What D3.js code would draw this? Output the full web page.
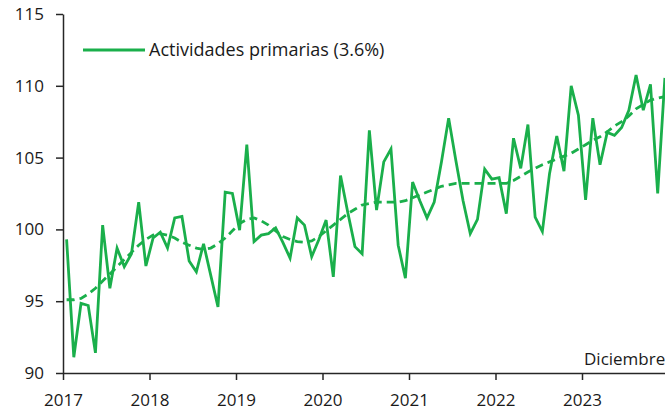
<!DOCTYPE html>
<html>
<head>
<meta charset="utf-8">
<script src="https://cdn.jsdelivr.net/npm/d3@7"></script>
<style>
  html, body { margin: 0; padding: 0; background: #fff; overflow: hidden; }
  svg { display: block; }
  .axis text { font-family: 'Open Sans', sans-serif; font-size: 17px; fill: #1a1a1a; }
  .axis path, .axis line { stroke: #262626; stroke-width: 1.5px; }
</style>
</head>
<body>
<div id="chart"></div>
<script>
// Años del eje (marca en enero de cada año)
const years = ['2017', '2018', '2019', '2020', '2021', '2022', '2023']

// Índice mensual, enero 2017 - diciembre 2023
const primarias = [
  99.3, 91.1, 94.85, 94.7, 91.4, 100.3, 95.9, 98.7, 97.4, 98.3, 101.9, 97.45,
  99.4, 99.8, 98.7, 100.8, 100.9, 97.8, 97.05, 99.0, 96.8, 94.6, 102.6, 102.5,
  99.95, 105.9, 99.15, 99.6, 99.7, 100.1, 99.1, 98.0, 100.8, 100.3, 98.1, 99.3,
  100.65, 96.7, 103.75, 101.2, 98.8, 98.3, 106.9, 101.35, 104.7, 105.6, 98.9, 96.6,
  103.3, 102.0, 100.8, 101.9, 104.7, 107.75, 104.8, 102.0, 99.7, 100.7, 104.2, 103.5,
  103.6, 101.1, 106.35, 104.25, 107.3, 100.85, 99.85, 103.9, 106.5, 104.05, 110.0, 107.95,
  102.05, 107.75, 104.5, 106.75, 106.55, 107.1, 108.3, 110.75, 108.3, 110.1, 102.5, 110.55
]

// Tendencia (línea discontinua)
const tendencia = [
  95.1, 95.1, 95.2, 95.5, 95.9, 96.4, 96.9, 97.4, 97.9, 98.4, 98.9, 99.3,
  99.6, 99.7, 99.6, 99.4, 99.1, 98.9, 98.7, 98.6, 98.7, 99.0, 99.4, 99.9,
  100.4, 100.7, 100.8, 100.6, 100.3, 99.9, 99.5, 99.3, 99.15, 99.1, 99.2, 99.5,
  99.9, 100.3, 100.7, 101.1, 101.4, 101.7, 101.8, 101.9, 101.9, 101.9, 101.9, 102.0,
  102.2, 102.4, 102.6, 102.8, 103.0, 103.1, 103.2, 103.2, 103.2, 103.2, 103.2, 103.2,
  103.2, 103.2, 103.4, 103.7, 104.0, 104.25, 104.5, 104.7, 104.9, 105.1, 105.3, 105.6,
  105.9, 106.2, 106.45, 106.8, 107.2, 107.5, 107.9, 108.4, 108.7, 109.0, 109.15, 109.25
]

const yTicks = [90, 95, 100, 105, 110, 115]
const legendLabel = 'Actividades primarias (3.6%)'
const noteLabel = 'Diciembre'

const width = 665
const height = 414
const green = '#1aaf4b'

const svg = d3.select('#chart').append('svg')
  .attr('width', width)
  .attr('height', height)

const x = d3.scaleLinear()
  .domain([0, primarias.length])
  .range([63, 668.5])

const y = d3.scaleLinear()
  .domain([90, 115])
  .range([373, 14])

svg.append('g')
  .attr('class', 'axis')
  .attr('transform', `translate(0,${y(90)})`)
  .call(d3.axisBottom(x)
    .tickValues(years.map((_, i) => i * 12))
    .tickFormat(d => years[d / 12])
    .tickSize(7)
    .tickSizeOuter(0)
    .tickPadding(14))

svg.append('g')
  .attr('class', 'axis')
  .attr('transform', `translate(${x(0)},0)`)
  .call(d3.axisLeft(y)
    .tickValues(yTicks)
    .tickSize(7)
    .tickSizeOuter(0)
    .tickPadding(12))

const line = d3.line()
  .x((d, i) => x(i + 0.5))
  .y(d => y(d))

svg.append('path')
  .datum(tendencia)
  .attr('fill', 'none')
  .attr('stroke', green)
  .attr('stroke-width', 2.8)
  .attr('stroke-dasharray', '8,5')
  .attr('d', line)

svg.append('path')
  .datum(primarias)
  .attr('fill', 'none')
  .attr('stroke', green)
  .attr('stroke-width', 2.8)
  .attr('d', line)

// leyenda
const legend = svg.append('g').attr('transform', 'translate(83,50)')
legend.append('line')
  .attr('x1', 0).attr('x2', 62)
  .attr('stroke', green)
  .attr('stroke-width', 2.8)
legend.append('text')
  .attr('x', 66)
  .attr('dy', '0.35em')
  .style('font-family', "'Open Sans', sans-serif")
  .style('font-size', '18px')
  .style('fill', '#1a1a1a')
  .text(legendLabel)

svg.append('text')
  .attr('x', 584)
  .attr('y', 365)
  .style('font-family', "'Open Sans', sans-serif")
  .style('font-size', '17px')
  .style('fill', '#1a1a1a')
  .text(noteLabel)
</script>
</body>
</html>
